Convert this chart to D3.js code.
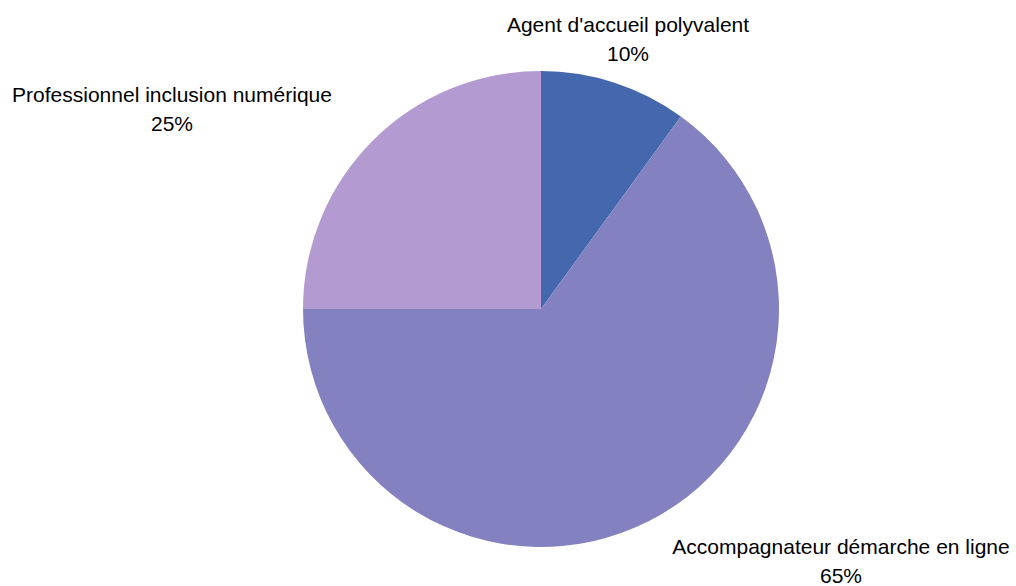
<!DOCTYPE html>
<html><head><meta charset="utf-8">
<script src="https://cdn.jsdelivr.net/npm/d3@7"></script>
<style>body{margin:0;background:#fff}svg{display:block}text{font-family:"Liberation Sans",Arial,sans-serif;font-size:21px;fill:#000}</style>
</head><body><svg id="c" width="1016" height="586"></svg>
<script>
const categories = ["Agent d'accueil polyvalent", "Accompagnateur démarche en ligne", "Professionnel inclusion numérique"];
const values = [10, 65, 25];
const percentLabels = ["10%", "65%", "25%"];
const colors = ["#4467ae", "#8381c0", "#b39bd1"];

const svg = d3.select("#c");
const cx = 541, cy = 309, r = 238;
const g = svg.append("g").attr("transform", `translate(${cx},${cy})`);
const pie = d3.pie().sort(null).value(d => d)(values);
const arc = d3.arc().innerRadius(0).outerRadius(r);
g.selectAll("path").data(pie).enter().append("path")
  .attr("d", arc).attr("fill", (d, i) => colors[i]);

const labelPos = [[628, 32], [841, 554], [172, 102]];
categories.forEach((c, i) => {
  const t = svg.append("text").attr("text-anchor", "middle")
    .attr("x", labelPos[i][0]).attr("y", labelPos[i][1]);
  t.append("tspan").attr("x", labelPos[i][0]).text(c);
  t.append("tspan").attr("x", labelPos[i][0]).attr("dy", 29).text(percentLabels[i]);
});
</script></body></html>
